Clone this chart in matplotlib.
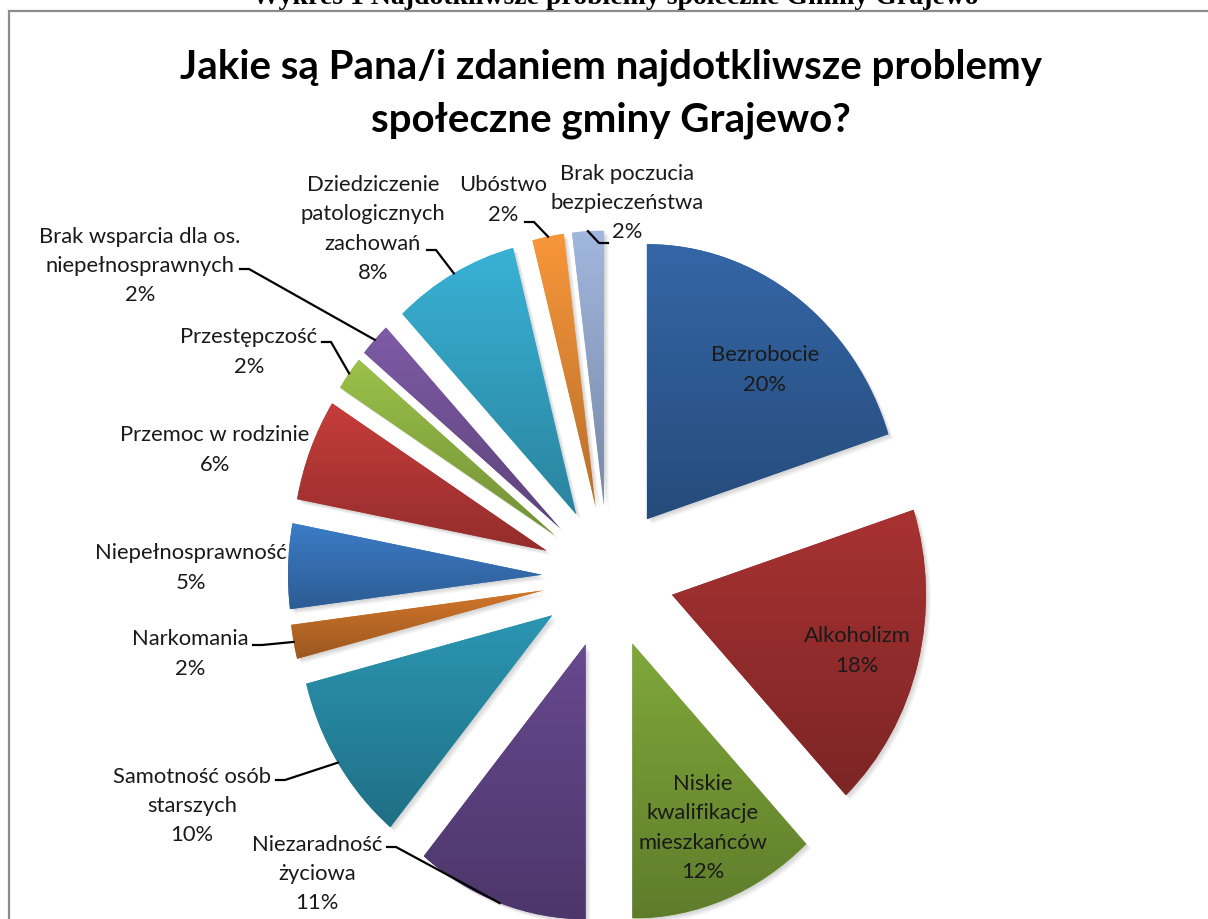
import numpy as np
import matplotlib.pyplot as plt
from matplotlib.colors import to_rgb
from matplotlib.patches import PathPatch, Rectangle
from matplotlib.transforms import ScaledTranslation

W, H = 1208, 919

categories = ['Bezrobocie', 'Alkoholizm', 'Niskie\nkwalifikacje\nmieszkańców',
              'Niezaradność\nżyciowa', 'Samotność osób\nstarszych', 'Narkomania',
              'Niepełnosprawność', 'Przemoc w rodzinie', 'Przestępczość',
              'Brak wsparcia dla os.\nniepełnosprawnych',
              'Dziedziczenie\npatologicznych\nzachowań', 'Ubóstwo',
              'Brak poczucia\nbezpieczeństwa']
values = [20, 18, 12, 11, 10, 2, 5, 6, 2, 2, 8, 2, 2]
colors = ['#3466a6', '#a83232', '#80a83a', '#67498f', '#2b96b3', '#d2762a',
          '#3c7cc7', '#c63d3b', '#9bc24a', '#7e5ba6', '#39b2d6', '#f8963a',
          '#a2b7de']

# label block centres in pixels (x, y from top)
label_xy = [(765, 370), (857, 651), (703, 828), (317, 874), (192, 806),
            (190, 654), (191, 568), (215, 450), (249, 352), (140, 266),
            (373, 229), (503, 200), (627, 203)]
# leader line start (pixels) and direction of the short horizontal tick
leader_start = {3: (387, 847, 1), 4: (276, 780, 1), 5: (253, 645, 1),
                8: (322, 342, 1), 9: (240, 269, 1), 10: (427, 250, 1),
                11: (525, 222, 1), 12: (608, 243, -1)}

# pie geometry in pixels (picture is stretched vertically)
cx, cy, rx, ry = 608, 577, 254, 275


def to_data(px, py):
    return (px - cx) / rx, (cy - py) / ry


fig = plt.figure(figsize=(W / 100, H / 100), dpi=100)
ax = fig.add_axes([0, 0, 1, 1])

wedges, _ = ax.pie(values, colors=colors, startangle=90, counterclock=False,
                   explode=[0.26] * len(values), radius=1,
                   wedgeprops=dict(linewidth=0, zorder=2))

for w, c in zip(wedges, colors):
    # soft shadow
    for k in range(1, 5):
        sh = PathPatch(w.get_path(), fc='k', lw=0, alpha=0.045, zorder=1,
                       transform=ax.transData +
                       ScaledTranslation(k * 0.012, -k * 0.012, fig.dpi_scale_trans))
        ax.add_patch(sh)
    # vertical gradient, lighter on top
    v = w.get_path().vertices
    top = np.array(to_rgb(c))
    bot = top * 0.74
    g = np.linspace(0, 1, 256)[:, None, None]
    img = top * (1 - g) + bot * g
    im = ax.imshow(img, extent=(v[:, 0].min(), v[:, 0].max(), v[:, 1].min(), v[:, 1].max()),
                   origin='upper', aspect='auto', zorder=3, interpolation='bilinear')
    im.set_clip_path(w)

for i, (w, v, name) in enumerate(zip(wedges, values, categories)):
    x, y = to_data(*label_xy[i])
    ax.text(x, y, '{}\n{}%'.format(name, v), ha='center', va='center',
            fontsize=15.8, family='Lato', color='#1a1a1a', linespacing=1.58, zorder=5)
    if i in leader_start:
        sx, sy, d = leader_start[i]
        ang = np.deg2rad((w.theta1 + w.theta2) / 2)
        ex = w.center[0] + w.r * np.cos(ang)
        ey = w.center[1] + w.r * np.sin(ang)
        p0 = to_data(sx, sy)
        p1 = to_data(sx + d * 9, sy)
        ax.plot([p0[0], p1[0], ex], [p0[1], p1[1], ey], color='black', lw=1.6,
                zorder=4, solid_joinstyle='miter')

x0, y1 = to_data(0, 0)
x1, y0 = to_data(W, H)
ax.set_xlim(x0, x1)
ax.set_ylim(y0, y1)
ax.set_aspect('auto')
ax.axis('off')

# chart border (runs off the right and bottom edge)
fig.add_artist(Rectangle((9 / W, -0.05), 1.1, 1 - 11 / H + 0.05, transform=fig.transFigure,
                         fill=False, ec='#8c8c8c', lw=1.6))

fig.text(611 / W, 1 - 94 / H, 'Jakie są Pana/i zdaniem najdotkliwsze problemy\nspołeczne gminy Grajewo?',
         ha='center', va='center', fontsize=29, fontweight='bold', family='Lato',
         linespacing=1.5)
fig.text(615 / W, 1 - 4 / H, 'Wykres 1 Najdotkliwsze problemy społeczne Gminy Grajewo',
         ha='center', va='baseline', fontsize=20, fontweight='bold',
         family='Liberation Serif')

plt.savefig('out.png', dpi=100)
